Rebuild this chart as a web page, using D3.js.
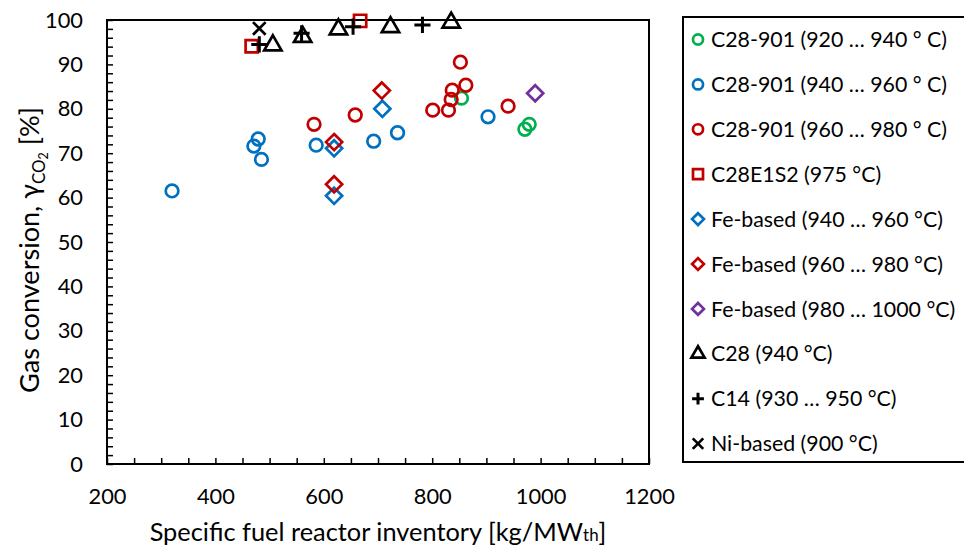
<!DOCTYPE html>
<html><head><meta charset="utf-8">
<script src="https://cdn.jsdelivr.net/npm/d3@7"></script>
<style>
html,body{margin:0;padding:0;background:#fff;}
svg{display:block;}
text{font-family:Lato,"Open Sans","Noto Sans",sans-serif;fill:#000;}
</style></head>
<body>
<svg id="chart" width="964" height="549"></svg>
<script>
// ---- data ----
const xTicks = [200,400,600,800,1000,1200];
const yTicks = [0,10,20,30,40,50,60,70,80,90,100];

const c28_901_920_x = [854, 971, 979];
const c28_901_920_y = [82.4, 75.4, 76.5];
const c28_901_940_x = [320, 471, 479, 485, 586, 692, 736, 903];
const c28_901_940_y = [61.5, 71.6, 73.2, 68.6, 71.8, 72.7, 74.6, 78.2];
const c28_901_960_x = [582, 658, 801, 830, 835, 837, 852, 862, 940];
const c28_901_960_y = [76.5, 78.6, 79.7, 79.7, 82.1, 84.2, 90.5, 85.3, 80.6];
const c28e1s2_x = [467, 667];
const c28e1s2_y = [94.1, 99.8];
const fe_940_x = [619, 619, 708];
const fe_940_y = [60.4, 71.1, 80.0];
const fe_960_x = [619, 619, 707];
const fe_960_y = [63.0, 72.5, 84.1];
const fe_980_x = [990];
const fe_980_y = [83.5];
const c28_x = [506, 561, 627, 723, 835];
const c28_y = [94.3, 96.2, 97.9, 98.4, 99.4];
const c14_x = [481, 559, 654, 782];
const c14_y = [94.5, 97.0, 98.5, 98.9];
const ni_x = [481];
const ni_y = [98.1];

const seriesNames = [
  "C28-901 (920 … 940 ° C)",
  "C28-901 (940 … 960 ° C)",
  "C28-901 (960 … 980 ° C)",
  "C28E1S2 (975 °C)",
  "Fe-based (940 … 960 °C)",
  "Fe-based (960 … 980 °C)",
  "Fe-based (980 … 1000 °C)",
  "C28 (940 °C)",
  "C14 (930 … 950 °C)",
  "Ni-based (900 °C)"
];

// ---- custom symbol shapes ----
const symDiamond = {draw(ctx, size){ const r = Math.sqrt(size/2); ctx.moveTo(0,-r); ctx.lineTo(r,0); ctx.lineTo(0,r); ctx.lineTo(-r,0); ctx.closePath(); }};
const symPlus = {draw(ctx, size){ const r = Math.sqrt(size)/2; ctx.moveTo(-r,0); ctx.lineTo(r,0); ctx.moveTo(0,-r); ctx.lineTo(0,r); }};
const symTimes = {draw(ctx, size){ const r = Math.sqrt(size)/2; ctx.moveTo(-r,-r); ctx.lineTo(r,r); ctx.moveTo(r,-r); ctx.lineTo(-r,r); }};

const GREEN="#00B050", BLUE="#0070C0", RED="#C00000", PURPLE="#7030A0", BLACK="#000000";

const series = [
  {name:seriesNames[0], xs:c28_901_920_x, ys:c28_901_920_y, type:d3.symbolCircle, color:GREEN, size:125, lsize:80, sw:2.7},
  {name:seriesNames[1], xs:c28_901_940_x, ys:c28_901_940_y, type:d3.symbolCircle, color:BLUE, size:125, lsize:80, sw:2.7},
  {name:seriesNames[2], xs:c28_901_960_x, ys:c28_901_960_y, type:d3.symbolCircle, color:RED, size:125, lsize:80, sw:2.7},
  {name:seriesNames[3], xs:c28e1s2_x, ys:c28e1s2_y, type:d3.symbolSquare, color:RED, size:150, lsize:100, sw:2.7},
  {name:seriesNames[4], xs:fe_940_x, ys:fe_940_y, type:symDiamond, color:BLUE, size:130, lsize:70, sw:2.7},
  {name:seriesNames[5], xs:fe_960_x, ys:fe_960_y, type:symDiamond, color:RED, size:130, lsize:70, sw:2.7},
  {name:seriesNames[6], xs:fe_980_x, ys:fe_980_y, type:symDiamond, color:PURPLE, size:130, lsize:70, sw:2.7},
  {name:seriesNames[7], xs:c28_x, ys:c28_y, type:d3.symbolTriangle, color:BLACK, size:130, lsize:75, sw:2.7},
  {name:seriesNames[8], xs:c14_x, ys:c14_y, type:symPlus, color:BLACK, size:260, lsize:140, sw:3},
  {name:seriesNames[9], xs:ni_x, ys:ni_y, type:symTimes, color:BLACK, size:160, lsize:110, sw:2.7}
];

// scale a text element's font sizes so its width matches a target
function fitWidth(node, target){
  const w = node.getBBox().width;
  const k = target / w;
  const all = [node, ...node.querySelectorAll("tspan")];
  all.forEach(n=>{
    const fs = parseFloat(n.style.fontSize);
    if(fs) n.style.fontSize = (fs*k).toFixed(2)+"px";
    const dy = n.getAttribute("dy");
    if(dy) n.setAttribute("dy", (parseFloat(dy)*k).toFixed(2));
  });
  return k;
}

// ---- layout ----
const svg = d3.select("#chart");
const L = 107, R = 649, T = 20, B = 464;
const x = d3.scaleLinear().domain([200,1200]).range([L,R]);
const y = d3.scaleLinear().domain([0,100]).range([B,T]);

// plot frame
svg.append("rect").attr("x",L).attr("y",T).attr("width",R-L).attr("height",B-T)
  .attr("fill","none").attr("stroke","#000").attr("stroke-width",2);

// minor ticks (inside)
const xMinor = d3.range(200,1201,50);
const yMinor = d3.range(0,101,2);
svg.append("g").attr("transform",`translate(0,${B})`)
  .call(d3.axisBottom(x).tickValues(xMinor).tickSize(-6).tickFormat(""))
  .call(g=>g.select(".domain").remove())
  .call(g=>g.selectAll("line").attr("stroke","#000").attr("stroke-width",1.5));
svg.append("g").attr("transform",`translate(${L},0)`)
  .call(d3.axisLeft(y).tickValues(yMinor).tickSize(-6).tickFormat(""))
  .call(g=>g.select(".domain").remove())
  .call(g=>g.selectAll("line").attr("stroke","#000").attr("stroke-width",1.5));

// tick labels (size fitted so "200" is ~38px wide)
const probe = svg.append("text").style("font-size","20px").text("200");
const kTick = fitWidth(probe.node(), 38);
const tickFs = parseFloat(probe.node().style.fontSize);
probe.remove();
svg.append("g").attr("transform",`translate(0,${B})`)
  .call(d3.axisBottom(x).tickValues(xTicks).tickSize(0).tickPadding(25).tickFormat(d3.format("d")))
  .call(g=>g.select(".domain").remove())
  .call(g=>g.selectAll("text").style("font-size",tickFs+"px").attr("fill","#000"));
svg.append("g").attr("transform",`translate(${L},0)`)
  .call(d3.axisLeft(y).tickValues(yTicks).tickSize(0).tickPadding(24).tickFormat(d3.format("d")))
  .call(g=>g.select(".domain").remove())
  .call(g=>g.selectAll("text").style("font-size",tickFs+"px").attr("fill","#000"));

// axis titles
const xt = svg.append("text").attr("x",378).attr("y",541).attr("text-anchor","middle").style("font-size","24px");
xt.append("tspan").text("Specific fuel reactor inventory [kg/MW").style("font-size","24px");
xt.append("tspan").text("th").style("font-size","16px");
xt.append("tspan").text("]").style("font-size","24px");
fitWidth(xt.node(), 457);

const yt = svg.append("text").attr("transform","translate(39,250) rotate(-90)").attr("text-anchor","middle").style("font-size","24px");
yt.append("tspan").text("Gas conversion, γ").style("font-size","24px");
yt.append("tspan").text("CO").style("font-size","15px").attr("dy",5);
yt.append("tspan").text("2").style("font-size","11px").attr("dy",3);
yt.append("tspan").text(" [%]").style("font-size","24px").attr("dy",-8);
fitWidth(yt.node(), 286);

// points
series.forEach(s=>{
  const pts = s.xs.map((v,i)=>[v,s.ys[i]]);
  svg.append("g").selectAll("path").data(pts).join("path")
    .attr("transform",d=>`translate(${x(d[0])},${y(d[1])})`)
    .attr("d",d3.symbol().type(s.type).size(s.size))
    .attr("fill","none").attr("stroke",s.color).attr("stroke-width",s.sw);
});

// legend
const lg = svg.append("g");
lg.append("rect").attr("x",683).attr("y",17).attr("width",290).attr("height",445)
  .attr("fill","#fff").attr("stroke","#000").attr("stroke-width",2);
const probe2 = svg.append("text").style("font-size","20px").text(seriesNames[0]);
fitWidth(probe2.node(), 236);
const legFs = parseFloat(probe2.node().style.fontSize);
probe2.remove();
series.forEach((s,i)=>{
  const cy = 39.5 + i*44.9;
  lg.append("path").attr("transform",`translate(698,${cy})`)
    .attr("d",d3.symbol().type(s.type).size(s.lsize))
    .attr("fill","none").attr("stroke",s.color).attr("stroke-width",s.sw);
  lg.append("text").attr("x",711).attr("y",cy+legFs*0.36).style("font-size",legFs+"px").text(s.name);
});
</script>
</body></html>
